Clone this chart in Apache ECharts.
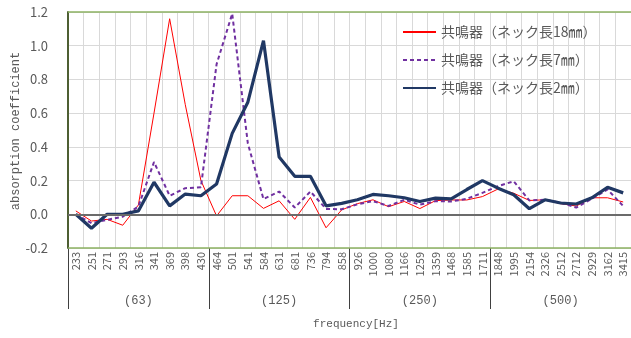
<!DOCTYPE html>
<html><head><meta charset="utf-8">
<script src="https://cdn.jsdelivr.net/npm/echarts@6/dist/echarts.min.js"></script>
<style>html,body{margin:0;padding:0;background:#fff}#c{width:631px;height:338px}</style>
</head><body><div id="c"></div>
<script>
const categories = ['233','251','271','293','316','341','369','398','430','464','501','541','584','631','681','736','794','858','926','1000','1080','1166','1259','1359','1468','1585','1711','1848','1995','2154','2326','2512','2712','2929','3162','3415'];
const groups = ['(63)','(125)','(250)','(500)'];
const seriesNames = ['共鳴器（ネック長18㎜）','共鳴器（ネック長7㎜）','共鳴器（ネック長2㎜）'];
const neck18 = [0.02,-0.04,-0.03,-0.065,0.055,0.60,1.16,0.65,0.2,-0.01,0.11,0.11,0.035,0.08,-0.03,0.10,-0.08,0.026,0.063,0.086,0.045,0.076,0.034,0.081,0.085,0.085,0.105,0.15,0.125,0.082,0.086,0.063,0.049,0.098,0.098,0.073];
const neck7 = [0.0,-0.053,-0.033,-0.014,0.046,0.31,0.11,0.155,0.16,0.89,1.19,0.42,0.09,0.135,0.04,0.135,0.032,0.03,0.059,0.078,0.049,0.086,0.057,0.078,0.076,0.092,0.127,0.167,0.196,0.082,0.086,0.069,0.04,0.092,0.147,0.049];
const neck2 = [0.0,-0.083,0.0,0.0,0.02,0.19,0.05,0.12,0.11,0.18,0.48,0.665,1.03,0.34,0.225,0.225,0.05,0.065,0.086,0.118,0.11,0.098,0.076,0.096,0.092,0.147,0.2,0.155,0.116,0.033,0.086,0.067,0.061,0.098,0.16,0.127];
const yMin = -0.2, yMax = 1.2, yInterval = 0.2;
const xTitle = 'frequency[Hz]';
const yTitle = 'absorption coefficient';

const chart = echarts.init(document.getElementById('c'), null, {renderer:'canvas'});
const G = {left:68, top:12, width:566, height:236};
const txt = '#595959';
chart.setOption({
  animation:false,
  grid:{left:G.left, top:G.top, width:G.width, height:G.height, show:false},
  legend:{
    orient:'vertical', left:397, top:20, itemWidth:33, itemHeight:14, itemGap:14,
    itemStyle:{opacity:0},
    textStyle:{fontFamily:'Noto Sans CJK JP', fontSize:14, color:txt, lineHeight:14},
    data: seriesNames
  },
  xAxis:[{
    type:'category', data:categories, boundaryGap:true,
    axisLine:{show:false}, axisTick:{show:false},
    axisLabel:{interval:0, rotate:90, margin:4, fontFamily:'Noto Sans CJK JP', fontSize:11, color:txt},
    splitLine:{show:true, interval:0, lineStyle:{color:'#d9d9d9', width:1}}
  },{
    type:'category', data:groups, boundaryGap:true, position:'bottom',
    axisLine:{show:false},
    axisTick:{show:true, length:61, interval:0, lineStyle:{color:'#404040', width:1}},
    axisLabel:{interval:0, margin:47, fontFamily:'Liberation Mono', fontSize:12, color:txt},
    splitLine:{show:false}
  }],
  yAxis:{
    type:'value', min:yMin, max:yMax, interval:yInterval,
    axisLine:{show:true, lineStyle:{color:'#4e5f33', width:2}},
    axisTick:{show:false},
    axisLabel:{margin:20, fontFamily:'Noto Sans CJK JP', fontSize:13, color:txt, formatter:v=>v.toFixed(1)},
    splitLine:{show:true, lineStyle:{color:'#d9d9d9', width:1}}
  },
  graphic:[
    {type:'line', z:100, shape:{x1:G.left, y1:G.top, x2:G.left+G.width, y2:G.top}, style:{stroke:'#8db262', lineWidth:1.5}},
    {type:'line', z:100, shape:{x1:G.left, y1:G.top+G.height, x2:G.left+G.width, y2:G.top+G.height}, style:{stroke:'#8db262', lineWidth:1.5}},
    {type:'text', z:100, position:[356,324], style:{text:xTitle, font:'11px "Liberation Mono"', fill:txt, textAlign:'center', textVerticalAlign:'middle'}},
    {type:'text', z:100, rotation:Math.PI/2, position:[16,131], style:{text:yTitle, font:'12px "Liberation Mono"', fill:txt, textAlign:'center', textVerticalAlign:'middle'}}
  ],
  series:[
    {name:seriesNames[0], type:'line', data:neck18, symbol:'none', xAxisIndex:0,
     lineStyle:{color:'#ff0000', width:1}, itemStyle:{color:'#ff0000'},
     markLine:{silent:true, symbol:'none', label:{show:false}, data:[{yAxis:0}], lineStyle:{color:'#6b6b6b', width:2, type:'solid'}}},
    {name:seriesNames[1], type:'line', data:neck7, symbol:'none', xAxisIndex:0,
     lineStyle:{color:'#7030a0', width:2, type:[4,3]}, itemStyle:{color:'#7030a0'}},
    {name:seriesNames[2], type:'line', data:neck2, symbol:'none', xAxisIndex:0,
     lineStyle:{color:'#203864', width:3.2}, itemStyle:{color:'#203864'}}
  ]
});
</script>
</body></html>
